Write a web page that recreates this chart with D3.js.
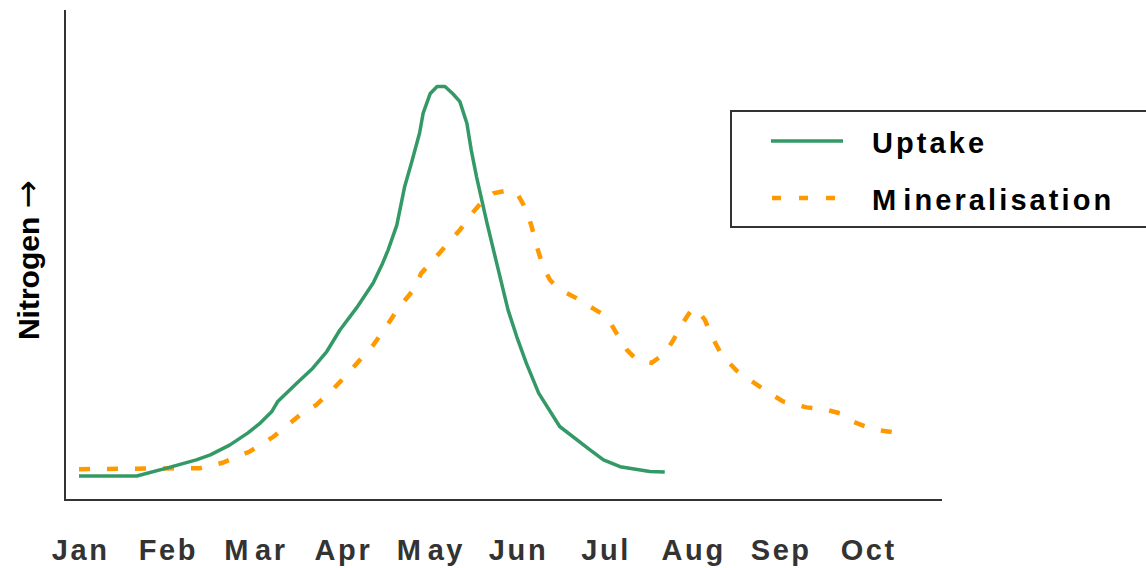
<!DOCTYPE html>
<html>
<head>
<meta charset="utf-8">
<script src="https://cdn.jsdelivr.net/npm/d3@7"></script>
<style>
  html, body { margin: 0; padding: 0; background: #fff; }
  svg { display: block; }
  text { font-family: "Liberation Sans", Arial, sans-serif; font-weight: bold; }
</style>
</head>
<body>
<svg id="chart" width="1146" height="568"></svg>
<script>
// ---- Data (x = month index, Jan = 0; y = relative nitrogen, 0..100) ----
const months = ["Jan", "Feb", "Mar", "Apr", "May", "Jun", "Jul", "Aug", "Sep", "Oct"];

const uptakeX = [0, 0.66, 1.00, 1.34, 1.50, 1.72, 1.93, 2.07, 2.20, 2.27, 2.49, 2.67, 2.83, 2.98, 3.17, 3.36, 3.46, 3.53, 3.63, 3.72, 3.80, 3.89, 3.93, 4.01, 4.09, 4.18, 4.27, 4.35, 4.43, 4.48, 4.54, 4.66, 4.79, 4.90, 5.00, 5.11, 5.25, 5.49, 5.84, 5.99, 6.18, 6.52, 6.69];
const uptakeY = [4.9, 4.9, 6.5, 8.2, 9.2, 11.2, 13.7, 15.7, 18.0, 20.1, 23.9, 26.9, 30.3, 34.7, 39.2, 44.3, 48.0, 51.0, 56.1, 64.0, 69.0, 74.9, 78.9, 82.9, 84.4, 84.4, 82.9, 81.3, 76.9, 71.4, 66.0, 56.5, 46.9, 38.8, 33.3, 27.9, 21.8, 15.0, 10.2, 8.2, 6.8, 5.8, 5.7];

const mineralX = [0, 1.38, 1.64, 1.95, 2.22, 2.52, 2.71, 2.89, 3.04, 3.21, 3.36, 3.51, 3.65, 3.82, 3.91, 4.05, 4.18, 4.35, 4.49, 4.62, 4.73, 4.87, 5.00, 5.11, 5.17, 5.23, 5.30, 5.38, 5.47, 5.68, 5.87, 6.03, 6.14, 6.26, 6.37, 6.54, 6.69, 6.79, 6.88, 6.98, 7.05, 7.15, 7.23, 7.34, 7.51, 7.66, 7.89, 8.04, 8.31, 8.54, 8.69, 8.84, 9.07, 9.32];
const mineralY = [6.3, 6.5, 7.6, 9.9, 12.9, 17.3, 19.4, 22.4, 25.2, 28.6, 31.6, 35.4, 39.2, 42.9, 46.3, 49.0, 51.7, 55.1, 58.5, 61.2, 62.6, 63.1, 62.7, 59.2, 55.8, 51.7, 47.6, 44.9, 43.2, 41.2, 39.1, 37.4, 34.0, 30.6, 28.6, 28.0, 29.9, 32.7, 35.7, 38.4, 39.1, 36.7, 33.3, 29.6, 26.4, 24.5, 21.8, 20.1, 18.9, 18.4, 17.7, 16.0, 14.4, 13.8];

const seriesNames = ["Uptake", "Mineralisation"];
const seriesColors = ["#339966", "#FF9900"];
const yLabelText = "Nitrogen";
const yLabelArrow = "\u2192";

// ---- Setup ----
const svg = d3.select("#chart");
const x = d3.scaleLinear().domain([0, 9]).range([79, 867]);
const y = d3.scaleLinear().domain([0, 100]).range([500, 10]);

const axisColor = "#333";

// axes lines
svg.append("line").attr("x1", 65).attr("x2", 65).attr("y1", 10).attr("y2", 501)
  .attr("stroke", axisColor).attr("stroke-width", 2);
svg.append("line").attr("x1", 64).attr("x2", 942).attr("y1", 500).attr("y2", 500)
  .attr("stroke", axisColor).attr("stroke-width", 2);

// helper: text with a little extra gap after a leading "M" (as in the original)
function spacedText(sel, str) {
  sel.text(null);
  if (str[0] === "M") {
    sel.append("tspan").text("M");
    sel.append("tspan").attr("dx", 4).text(str.slice(1));
  } else {
    sel.text(str);
  }
}

// x axis labels
const xAxis = d3.axisBottom(x)
  .tickValues(d3.range(months.length))
  .tickFormat(i => months[i])
  .tickSize(0)
  .tickPadding(0);
const gx = svg.append("g").attr("transform", "translate(0,560)").call(xAxis);
gx.select(".domain").remove();
gx.selectAll("text")
  .attr("dy", 0)
  .attr("dx", "1.25")
  .attr("fill", "#333")
  .style("font-size", "29px")
  .style("letter-spacing", "2.6px")
  .style("font-family", "'Liberation Sans', Arial, sans-serif")
  .style("font-weight", "bold")
  .each(function(i) { spacedText(d3.select(this), months[i]); });

// y label
const yl = svg.append("text")
  .attr("transform", "translate(39,260) rotate(-90)")
  .attr("text-anchor", "middle")
  .attr("fill", "#000")
  .style("font-size", "30px");
yl.append("tspan").text(yLabelText + " ");
yl.append("tspan")
  .style("font-family", "'DejaVu Sans', sans-serif")
  .style("font-weight", "normal")
  .style("font-size", "34px")
  .text(yLabelArrow);

// lines
const line = d3.line().x(d => x(d[0])).y(d => y(d[1]));

const uptakeData = uptakeX.map((v, i) => [v, uptakeY[i]]);
const mineralData = mineralX.map((v, i) => [v, mineralY[i]]);

svg.append("path").datum(mineralData)
  .attr("d", line)
  .attr("fill", "none")
  .attr("stroke", seriesColors[1])
  .attr("stroke-width", 4.5)
  .attr("stroke-dasharray", "11,17");

svg.append("path").datum(uptakeData)
  .attr("d", line)
  .attr("fill", "none")
  .attr("stroke", seriesColors[0])
  .attr("stroke-width", 3.5)
  .attr("stroke-linejoin", "round");

// legend
svg.append("rect").attr("x", 731).attr("y", 111).attr("width", 430).attr("height", 116)
  .attr("fill", "none").attr("stroke", axisColor).attr("stroke-width", 2);

svg.append("line").attr("x1", 771).attr("x2", 843).attr("y1", 141).attr("y2", 141)
  .attr("stroke", seriesColors[0]).attr("stroke-width", 3.5);
svg.append("line").attr("x1", 772).attr("x2", 840).attr("y1", 198).attr("y2", 198)
  .attr("stroke", seriesColors[1]).attr("stroke-width", 4.5)
  .attr("stroke-dasharray", "9,18");

svg.selectAll(".legtext").data(seriesNames).enter().append("text")
  .attr("class", "legtext")
  .attr("x", 872)
  .attr("y", (d, i) => 153 + i * 57)
  .attr("fill", "#000")
  .style("font-size", "29px")
  .style("letter-spacing", "3.1px")
  .each(function(d) { spacedText(d3.select(this), d); });
</script>
</body>
</html>
